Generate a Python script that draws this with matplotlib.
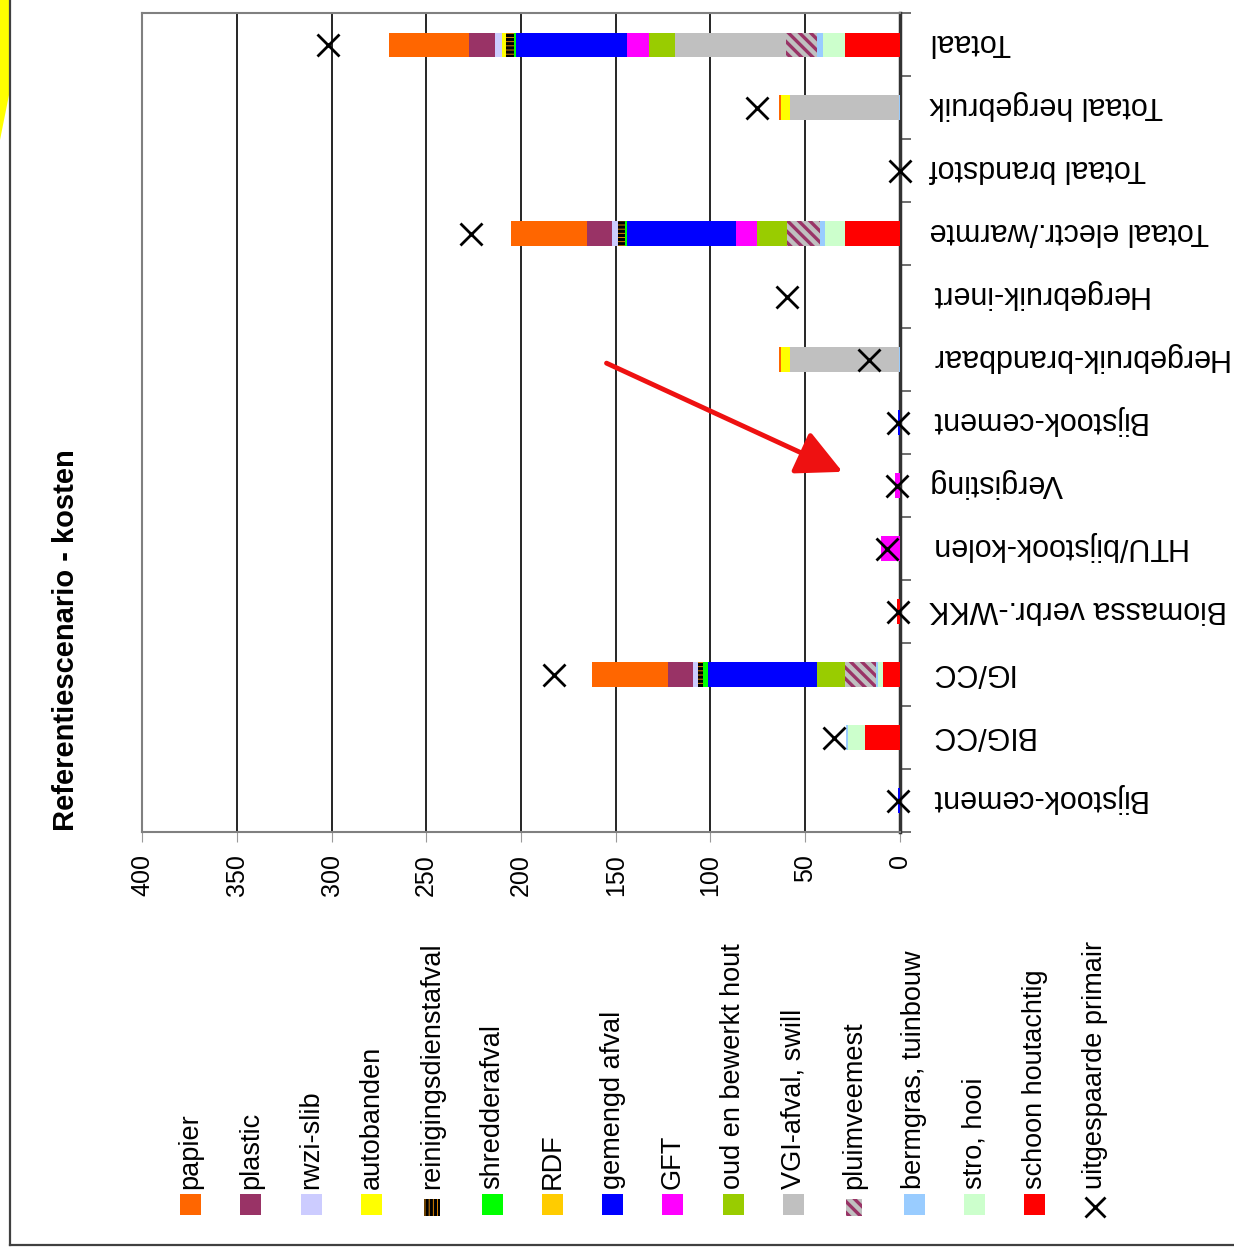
import numpy as np
import matplotlib.pyplot as plt
from matplotlib.patches import Rectangle, Polygon, FancyArrowPatch
from matplotlib.transforms import ScaledTranslation

plt.rcParams['font.family'] = ['Liberation Sans', 'DejaVu Sans']
plt.rcParams['hatch.linewidth'] = 2.4

# categories, bottom to top
categories = ["Bijstook-cement", "BIG/CC", "IG/CC", "Biomassa verbr.-WKK",
              "HTU/bijstook-kolen", "Vergisting", "Bijstook-cement",
              "Hergebruik-brandbaar", "Hergebruik-inert", "Totaal electr./warmte",
              "Totaal brandstof", "Totaal hergebruik", "Totaal"]

# stacked series, in stacking order from 0
schoon_houtachtig = [0, 18.5, 8.8, 1.5, 0, 0, 0, 0, 0, 29.1, 0, 0, 29.1]
stro_hooi = [0, 9.0, 3.0, 0, 0, 0, 0, 0, 0, 10.6, 0, 0, 11.5]
bermgras = [0, 1.0, 0.9, 0, 0, 0, 0, 0.4, 0, 2.6, 0, 0.4, 3.2]
pluimveemest = [0, 0, 16.4, 0, 0, 0, 0, 0, 0, 17.4, 0, 0, 16.2]
vgi_afval = [0, 0, 0, 0, 0, 0, 0, 57.8, 0, 0, 0, 57.8, 58.6]
oud_hout = [0, 0, 14.8, 0, 0, 0, 0, 0, 0, 16.0, 0, 0, 13.7]
gft = [0, 0, 0, 0, 10.0, 2.5, 0, 0, 0, 10.6, 0, 0, 11.7]
gemengd_afval = [1.0, 0, 57.2, 0, 0, 0, 1.0, 0, 0, 57.7, 0, 0, 58.8]
rdf = [0, 0, 0, 0, 0, 0, 0, 0, 0, 0, 0, 0, 0]
shredderafval = [0, 0, 2.7, 0, 0, 0, 0, 0, 0, 0.9, 0, 0, 0.9]
reinigingsdienstafval = [0, 0, 2.6, 0, 0, 0, 0, 0, 0, 3.8, 0, 0, 4.0]
autobanden = [0, 0, 0, 0, 0, 0, 0, 4.4, 0, 0, 0, 4.4, 2.3]
rwzi_slib = [0, 0, 2.7, 0, 0, 0, 0, 0, 0, 3.2, 0, 0, 3.5]
plastic = [0, 0, 13.2, 0, 0, 0, 0, 0, 0, 13.3, 0, 0, 14.1]
papier = [0, 0, 40.2, 0, 0, 0, 0, 1.4, 0, 40.2, 0, 1.4, 41.9]

uitgespaarde_primair = [0.8, 35, 182.5, 1.0, 7, 1.5, 0.8, 16.4, 59.8, 226.6, 0, 75.7, 302]

# name, values, face, hatch, hatch colour
series = [
    ("schoon houtachtig", schoon_houtachtig, "#FF0000", None, None),
    ("stro, hooi", stro_hooi, "#CCFFCC", None, None),
    ("bermgras, tuinbouw", bermgras, "#99CCFF", None, None),
    ("pluimveemest", pluimveemest, "#C0C0C0", "\\\\\\", "#993366"),
    ("VGI-afval, swill", vgi_afval, "#C0C0C0", None, None),
    ("oud en bewerkt hout", oud_hout, "#99CC00", None, None),
    ("GFT", gft, "#FF00FF", None, None),
    ("gemengd afval", gemengd_afval, "#0000FF", None, None),
    ("RDF", rdf, "#FFCC00", None, None),
    ("shredderafval", shredderafval, "#00FF00", None, None),
    ("reinigingsdienstafval", reinigingsdienstafval, "#FF9900", "----", "black"),
    ("autobanden", autobanden, "#FFFF00", None, None),
    ("rwzi-slib", rwzi_slib, "#CCCCFF", None, None),
    ("plastic", plastic, "#993366", None, None),
    ("papier", papier, "#FF6600", None, None),
]

W, H = 1234, 1256
fig = plt.figure(figsize=(W / 100, H / 100), dpi=100)
ax = fig.add_axes([142 / W, 1 - 832 / H, (900 - 142) / W, (832 - 13.3) / H])

ypos = np.arange(len(categories))
left = np.zeros(len(categories))
for name, vals, face, hatch, hcol in series:
    vals = np.array(vals, dtype=float)
    if hatch:
        ax.barh(ypos, vals, left=left, height=0.39, color=face, hatch=hatch,
                edgecolor=hcol, linewidth=0, zorder=3)
    else:
        ax.barh(ypos, vals, left=left, height=0.39, color=face, linewidth=0, zorder=3)
    left += vals

ax.plot(uitgespaarde_primair, ypos, linestyle="none", marker="x", color="black",
        markersize=16, markeredgewidth=2.0, zorder=5, clip_on=False)

ax.set_xlim(400, 0)
ax.set_ylim(-0.5, len(categories) - 0.5)

ax.set_xticks(np.arange(0, 401, 50))
ax.set_xticklabels([str(v) for v in range(0, 401, 50)], rotation=90, fontsize=18)
ax.tick_params(axis="x", length=7, color="#999999", pad=9)
for v in range(50, 400, 50):
    ax.axvline(v, color="black", linewidth=1.2, zorder=1)

ax.yaxis.tick_right()
ax.set_yticks(ypos)
ax.set_yticklabels(categories, rotation=180, fontsize=22, va="center")
ax.tick_params(axis="y", which="major", length=0, pad=21)
ax.set_yticks(np.arange(-0.5, len(categories), 1), minor=True)
ax.tick_params(axis="y", which="minor", length=8, width=1.2, color="#555555")
shift = ScaledTranslation(0, 3 / 100, fig.dpi_scale_trans)
for lab in ax.get_yticklabels():
    lab.set_transform(lab.get_transform() + shift)

for side in ["left", "top", "bottom"]:
    ax.spines[side].set_color("#808080")
    ax.spines[side].set_linewidth(1.5)
ax.spines["right"].set_color("#333333")
ax.spines["right"].set_linewidth(2.5)

# overlay in pixel units for legend, title, arrow and frame
lax = fig.add_axes([0, 0, 1, 1], facecolor="none")
lax.set_xlim(0, W)
lax.set_ylim(H, 0)
lax.axis("off")

lax.add_patch(Polygon([(0, 0), (9, 0), (9, 95), (0, 140)], closed=True,
                      color="#FFFF00", linewidth=0))
lax.plot([10, 10], [0, 1245], color="#404040", linewidth=1.6)
lax.plot([10, 1234], [1245, 1245], color="#404040", linewidth=1.6)

lax.text(66, 640, "Referentiescenario - kosten", rotation=90, ha="center",
         va="center", fontsize=21, fontweight="bold")

legend_items = list(reversed(series))
x0, step = 190.5, 60.3
for i, (name, vals, face, hatch, hcol) in enumerate(legend_items):
    xc = x0 + i * step
    if name == "reinigingsdienstafval":
        lax.add_patch(Rectangle((xc - 8, 1199), 16, 17, facecolor=face,
                                hatch="||||", edgecolor="black", linewidth=0))
    elif hatch:
        lax.add_patch(Rectangle((xc - 8, 1199), 16, 17, facecolor=face,
                                hatch=hatch, edgecolor=hcol, linewidth=0))
    else:
        lax.add_patch(Rectangle((xc - 10.5, 1194), 21, 21, facecolor=face,
                                linewidth=0))
    lax.text(xc, 1189, name, rotation=90, ha="center", va="bottom", fontsize=19.5)
xc = x0 + len(legend_items) * step
lax.plot([xc], [1207], marker="x", color="black", markersize=14, markeredgewidth=2.0)
lax.text(xc, 1189, "uitgespaarde primair", rotation=90, ha="center", va="bottom",
         fontsize=19.5)

arrow = FancyArrowPatch((604, 362), (845, 473), arrowstyle="-|>,head_length=1.4,head_width=0.7",
                        mutation_scale=20, color="#EE1111", linewidth=3.5)
lax.add_patch(arrow)

fig.savefig("out.png", dpi=100)
